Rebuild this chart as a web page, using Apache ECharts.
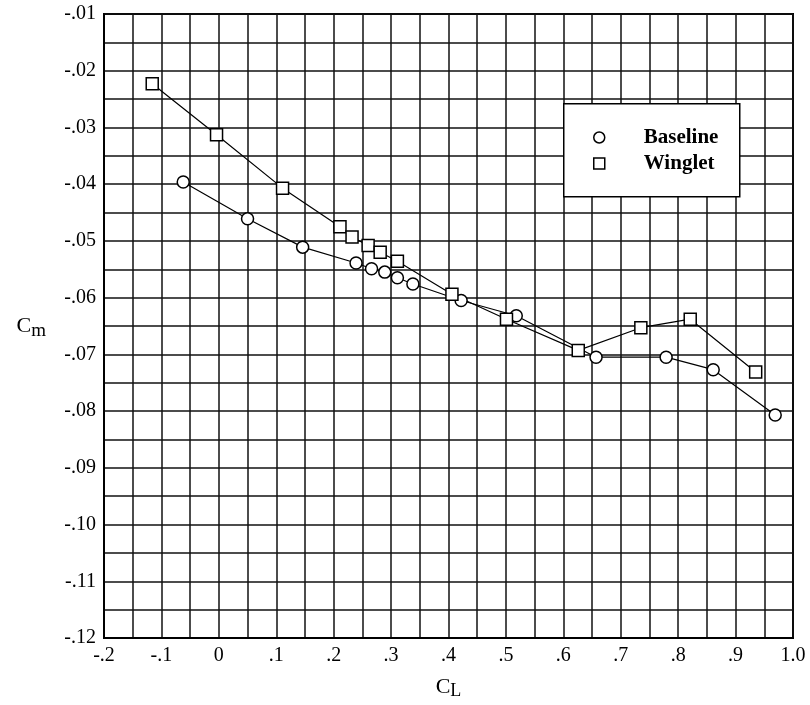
<!DOCTYPE html>
<html lang="en">

<head>
    <meta charset="UTF-8">
    <title>Cm vs CL</title>
    <script src="https://cdn.jsdelivr.net/npm/echarts@6/dist/echarts.min.js"></script>
    <style>
        body { margin: 0; background: #fff; }
    </style>
</head>

<body>
    <div id="main" style="width: 810px;height:705px;"></div>

    <script type="text/javascript">
        // values
        var baselineCL = [-0.062, 0.050, 0.146, 0.239, 0.266, 0.289, 0.311, 0.338, 0.422, 0.518, 0.657, 0.779, 0.861, 0.969];
        var baselineCm = [-0.0396, -0.0461, -0.0511, -0.0539, -0.0549, -0.0555, -0.0565, -0.0576, -0.0605, -0.0632, -0.0705, -0.0705, -0.0727, -0.0807];
        var wingletCL = [-0.116, -0.004, 0.111, 0.211, 0.232, 0.260, 0.281, 0.311, 0.406, 0.501, 0.626, 0.735, 0.821, 0.935];
        var wingletCm = [-0.0223, -0.0313, -0.0407, -0.0475, -0.0493, -0.0508, -0.0520, -0.0536, -0.0594, -0.0638, -0.0693, -0.0653, -0.0638, -0.0731];

        var seriesNames = ['Baseline', 'Winglet'];

        function pairs(xs, ys) {
            return xs.map(function (x, i) { return [x, ys[i]]; });
        }

        // ".1" style labels, only every second grid line
        function fmtX(v) {
            var k = Math.round(v * 100);
            if (k % 10 !== 0) return '';
            if (k === 0) return '0';
            var s = (k / 100).toFixed(1);
            return s.replace(/^(-?)0\./, '$1.');
        }
        function fmtY(v) {
            var k = Math.round(v * 1000);
            if (k % 10 !== 0) return '';
            return (k / 1000).toFixed(2).replace(/^(-?)0\./, '$1.');
        }

        var font = 'Liberation Serif';
        var gridLine = { show: true, lineStyle: { color: '#111', width: 1.5 } };
        var markStyle = { color: '#fff', borderColor: '#000', borderWidth: 1.5 };

        var myChart = echarts.init(document.getElementById('main'));

        var option = {
            backgroundColor: '#fff',
            animation: false,
            grid: {
                left: 104,
                right: 17,
                top: 14,
                bottom: 62,
                show: true,
                borderColor: '#000',
                borderWidth: 2
            },
            graphic: [{
                type: 'rect',
                left: 563,
                top: 103,
                shape: { width: 176, height: 93 },
                style: { fill: '#fff', stroke: '#000', lineWidth: 1.5 },
                z: 100
            }],
            legend: {
                data: [
                    { name: seriesNames[0], icon: 'circle', itemStyle: markStyle },
                    { name: seriesNames[1], icon: 'rect', itemStyle: markStyle }
                ],
                orient: 'vertical',
                left: 588,
                top: 122,
                itemWidth: 11,
                itemHeight: 11,
                itemGap: 5,
                z: 110,
                textStyle: {
                    fontFamily: font,
                    fontWeight: 'bold',
                    fontSize: 21,
                    color: '#000',
                    padding: [0, 0, 0, 34]
                }
            },
            xAxis: {
                type: 'value',
                min: -0.2,
                max: 1.0,
                interval: 0.05,
                name: '{c|C}{s|L}',
                nameLocation: 'middle',
                nameGap: 38,
                nameTextStyle: {
                    rich: {
                        c: { fontFamily: font, fontSize: 22, color: '#000', lineHeight: 22, verticalAlign: 'top' },
                        s: { fontFamily: font, fontSize: 18, color: '#000', lineHeight: 18, padding: [6, 0, 0, 0], verticalAlign: 'top' }
                    }
                },
                axisLine: { show: true, onZero: false, lineStyle: { color: '#000', width: 2 } },
                axisTick: { show: false },
                axisLabel: {
                    formatter: fmtX,
                    fontFamily: font,
                    fontSize: 20,
                    color: '#000',
                    margin: 8,
                    showMinLabel: true,
                    showMaxLabel: true
                },
                splitLine: gridLine
            },
            yAxis: {
                type: 'value',
                min: -0.12,
                max: -0.01,
                interval: 0.005,
                name: '{c|C}{s|m}',
                nameLocation: 'middle',
                nameRotate: 0,
                nameGap: 58,
                nameTextStyle: {
                    rich: {
                        c: { fontFamily: font, fontSize: 22, color: '#000', lineHeight: 22, verticalAlign: 'top' },
                        s: { fontFamily: font, fontSize: 19, color: '#000', lineHeight: 19, padding: [7, 0, 0, 0], verticalAlign: 'top' }
                    }
                },
                axisLine: { show: true, onZero: false, lineStyle: { color: '#000', width: 2 } },
                axisTick: { show: false },
                axisLabel: {
                    formatter: fmtY,
                    fontFamily: font,
                    fontSize: 20,
                    color: '#000',
                    margin: 8,
                    showMinLabel: true,
                    showMaxLabel: true
                },
                splitLine: gridLine
            },
            series: [{
                name: seriesNames[0],
                type: 'line',
                data: pairs(baselineCL, baselineCm),
                symbol: 'circle',
                symbolSize: 12,
                showAllSymbol: true,
                itemStyle: markStyle,
                lineStyle: { color: '#000', width: 1.2 }
            }, {
                name: seriesNames[1],
                type: 'line',
                data: pairs(wingletCL, wingletCm),
                symbol: 'rect',
                symbolSize: 12,
                showAllSymbol: true,
                itemStyle: markStyle,
                lineStyle: { color: '#000', width: 1.2 }
            }]
        };

        myChart.setOption(option);
    </script>
</body>

</html>
